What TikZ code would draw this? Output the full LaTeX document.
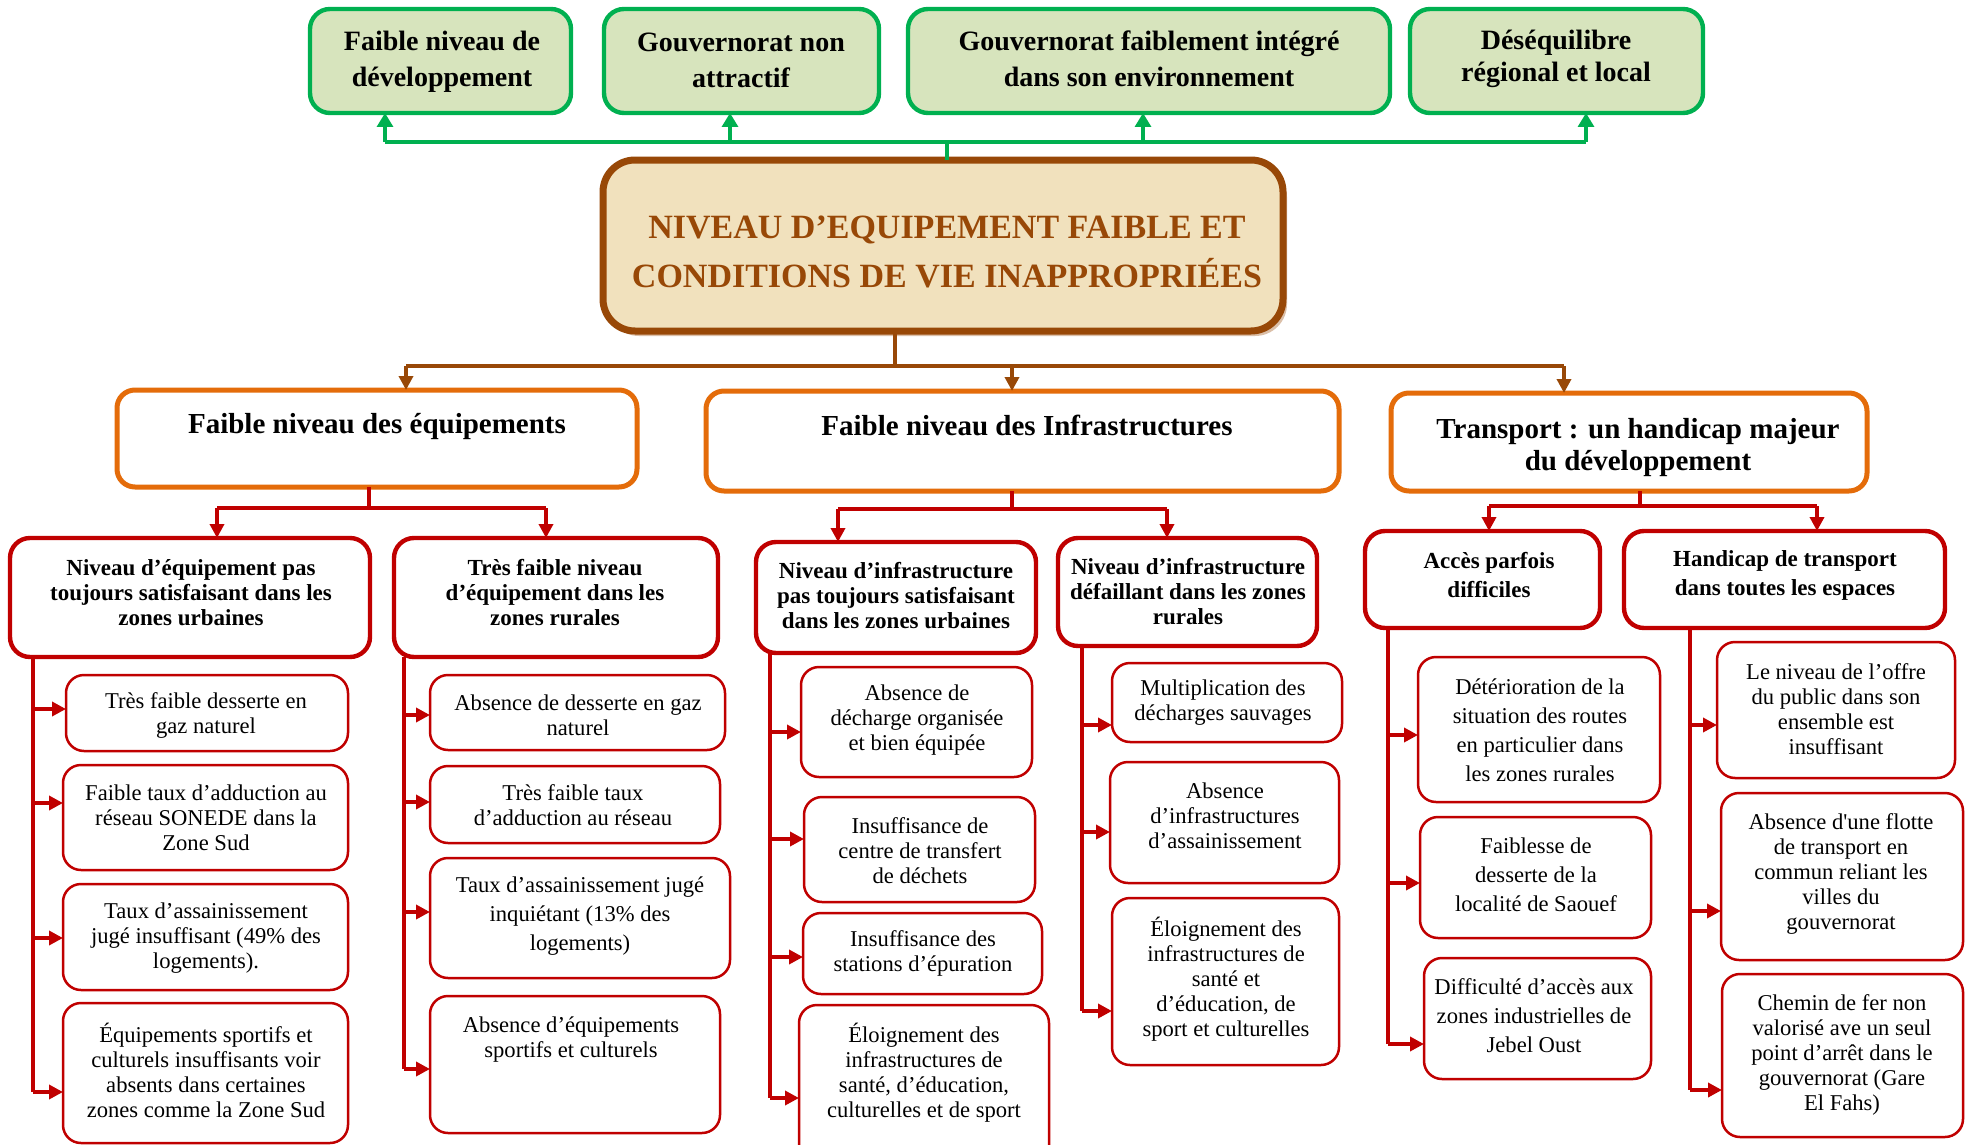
\documentclass[tikz,border=0pt]{standalone}
\usepackage{fontspec}
\setmainfont{Liberation Serif}
\usetikzlibrary{arrows.meta,shadows}
\definecolor{gr}{HTML}{00B050}
\definecolor{grfill}{HTML}{D7E4BD}
\definecolor{brn}{HTML}{984807}
\definecolor{parch}{HTML}{F1E1BD}
\definecolor{org}{HTML}{E46C0A}
\definecolor{rd}{HTML}{C00000}
\newcommand\mkbox[6]{\node[#1, minimum width={(#5-#3)*0.5pt}, minimum height={(#6-#4)*0.5pt}] (#2) at ({(#3+#5)/2},{(#4+#6)/2}) {};}
\tikzset{
  every node/.style={inner sep=0pt, outer sep=0pt},
  gbox/.style={rectangle, draw=gr, line width=2.2pt, fill=grfill, rounded corners=10pt},
  mbox/.style={rectangle, draw=brn, line width=3.5pt, fill=parch, rounded corners=16pt,
    drop shadow={shadow xshift=2pt, shadow yshift=-2.5pt, fill=brn!35!white, opacity=1}},
  obox/.style={rectangle, draw=org, line width=2.5pt, fill=white, rounded corners=9pt},
  rbox/.style={rectangle, draw=rd, line width=2.2pt, fill=white, rounded corners=10pt},
  lbox/.style={rectangle, draw=rd, line width=1.25pt, fill=white, rounded corners=9pt},
  gtxt/.style={align=center, font=\bfseries\fontsize{14}{18}\selectfont},
  gtxtn/.style={align=center, font=\bfseries\fontsize{14}{16}\selectfont},
  mtxt/.style={align=center, text=brn, font=\bfseries\fontsize{17}{24.5}\selectfont},
  otxt/.style={align=center, font=\bfseries\fontsize{14.5}{16}\selectfont},
  rtxt/.style={align=center, font=\bfseries\fontsize{11.5}{12.5}\selectfont},
  rtxtw/.style={align=center, font=\bfseries\fontsize{11.5}{14.5}\selectfont},
  ltxt/.style={align=center, font=\fontsize{11.3}{12.5}\selectfont},
  ltxtw/.style={align=center, font=\fontsize{11.3}{14.5}\selectfont},
  gline/.style={draw=gr, line width=1.6pt},
  garr/.style={gline, -{Triangle[length=7pt,width=8pt]}},
  bline/.style={draw=brn, line width=2pt},
  barr/.style={bline, -{Triangle[length=7pt,width=7pt]}},
  rline/.style={draw=rd, line width=1.8pt},
  rarr/.style={rline, -{Triangle[length=7pt,width=7pt]}},
}
\begin{document}
\begin{tikzpicture}[x=0.5pt,y=-0.5pt]
\fill[white] (0,0) rectangle (1970,1145);
\useasboundingbox (0,0) rectangle (1970,1145);

% ---- top green boxes
\mkbox{gbox}{g1}{310}{9}{571}{113}
\mkbox{gbox}{g2}{604}{9}{879}{113}
\mkbox{gbox}{g3}{908}{9}{1390}{113}
\mkbox{gbox}{g4}{1410}{9}{1703}{113}
\node[gtxt] (g1t) at (442,62) {Faible niveau de\\développement};
\node[gtxt] (g2t) at (741,60) {Gouvernorat non\\attractif};
\node[gtxt] (g3t) at (1149,59) {Gouvernorat faiblement intégré\\dans son environnement};
\node[gtxtn] (g4t) at (1556,59) {Déséquilibre\\régional et local};

% ---- main box
\mkbox{mbox}{main}{603}{160}{1283}{331}
\node[mtxt] (maint) at (947,252) {NIVEAU D’EQUIPEMENT FAIBLE ET\\CONDITIONS DE VIE INAPPROPRIÉES};

% green connectors
\coordinate (gb0) at (947,142);
\coordinate (gb1) at (385,142);
\coordinate (gb2) at (730,142);
\coordinate (gb3) at (1143,142);
\coordinate (gb4) at (1586,142);
\draw[gline] (main.north -| gb0) -- (gb0);
\draw[gline] (gb1) -- (gb4);
\draw[garr] (gb1) -- (gb1 |- g1.south);
\draw[garr] (gb2) -- (gb2 |- g2.south);
\draw[garr] (gb3) -- (gb3 |- g3.south);
\draw[garr] (gb4) -- (gb4 |- g4.south);

% ---- orange boxes
\mkbox{obox}{oA}{117}{390}{637}{487}
\mkbox{obox}{oB}{706}{391}{1339}{491}
\mkbox{obox}{oC}{1391}{393}{1867}{491}
\node[otxt] (oAt) at (377,427) {Faible niveau des équipements};
\node[otxt] (oBt) at (1027,425) {Faible niveau des Infrastructures};
\node[otxt] (oCt) at (1638,448) {Transport : un handicap majeur\\du développement};

% brown connectors
\coordinate (bb0) at (895,366);
\coordinate (bb1) at (406,366);
\coordinate (bb2) at (1012,366);
\coordinate (bb3) at (1564,366);
\draw[bline] (main.south -| bb0) -- (bb0);
\draw[bline] (bb1) -- (bb3);
\draw[barr] (bb1) -- (bb1 |- oA.north);
\draw[barr] (bb2) -- (bb2 |- oB.north);
\draw[barr] (bb3) -- (bb3 |- oC.north);

% ---- red header boxes
\mkbox{rbox}{R1}{10}{538}{370}{657}
\mkbox{rbox}{R2}{394}{538}{718}{657}
\mkbox{rbox}{R3}{756}{542}{1036}{653}
\mkbox{rbox}{R4}{1058}{538}{1317}{646}
\mkbox{rbox}{R5}{1365}{531}{1600}{628}
\mkbox{rbox}{R6}{1624}{531}{1945}{628}
\node[rtxt] (R1t) at (191,593) {Niveau d’équipement pas\\toujours satisfaisant dans les\\zones urbaines};
\node[rtxt] (R2t) at (555,593) {Très faible niveau\\d’équipement dans les\\zones rurales};
\node[rtxt] (R3t) at (896,596) {Niveau d’infrastructure\\pas toujours satisfaisant\\dans les zones urbaines};
\node[rtxt] (R4t) at (1188,592) {Niveau d’infrastructure\\défaillant dans les zones\\rurales};
\node[rtxtw] (R5t) at (1489,575) {Accès parfois\\difficiles};
\node[rtxtw] (R6t) at (1785,575) {Handicap de transport\\dans toutes les espaces};

% orange -> red connectors
\coordinate (ra0) at (369,508); \coordinate (ra1) at (217,508); \coordinate (ra2) at (546,508);
\coordinate (rb0) at (1012,509); \coordinate (rb1) at (838,509); \coordinate (rb2) at (1167,509);
\coordinate (rc0) at (1640,506); \coordinate (rc1) at (1489,506); \coordinate (rc2) at (1817,506);
\draw[rline] (oA.south -| ra0) -- (ra0);
\draw[rline] (ra1) -- (ra2);
\draw[rarr] (ra1) -- (ra1 |- R1.north);
\draw[rarr] (ra2) -- (ra2 |- R2.north);
\draw[rline] (oB.south -| rb0) -- (rb0);
\draw[rline] (rb1) -- (rb2);
\draw[rarr] (rb1) -- (rb1 |- R3.north);
\draw[rarr] (rb2) -- (rb2 |- R4.north);
\draw[rline] (oC.south -| rc0) -- (rc0);
\draw[rline] (rc1) -- (rc2);
\draw[rarr] (rc1) -- (rc1 |- R5.north);
\draw[rarr] (rc2) -- (rc2 |- R6.north);

% ---- leaf boxes
\mkbox{lbox}{L1a}{66}{675}{348}{751}
\mkbox{lbox}{L1b}{63}{765}{348}{870}
\mkbox{lbox}{L1c}{63}{884}{348}{990}
\mkbox{lbox}{L1d}{63}{1003}{348}{1143}
\mkbox{lbox}{L2a}{430}{675}{725}{750}
\mkbox{lbox}{L2b}{430}{766}{720}{843}
\mkbox{lbox}{L2c}{430}{858}{730}{978}
\mkbox{lbox}{L2d}{430}{996}{720}{1133}
\mkbox{lbox}{L3a}{801}{667}{1032}{777}
\mkbox{lbox}{L3b}{804}{797}{1035}{902}
\mkbox{lbox}{L3c}{803}{913}{1042}{994}
\mkbox{lbox}{L3d}{799}{1005}{1049}{1165}
\mkbox{lbox}{L4a}{1112}{663}{1342}{742}
\mkbox{lbox}{L4b}{1110}{762}{1339}{883}
\mkbox{lbox}{L4c}{1112}{898}{1339}{1065}
\mkbox{lbox}{L5a}{1418}{657}{1660}{802}
\mkbox{lbox}{L5b}{1420}{817}{1651}{938}
\mkbox{lbox}{L5c}{1424}{958}{1651}{1079}
\mkbox{lbox}{L6a}{1717}{642}{1955}{778}
\mkbox{lbox}{L6b}{1721}{793}{1963}{960}
\mkbox{lbox}{L6c}{1722}{974}{1963}{1137}

\node[ltxt] (L1at) at (206,715) {Très faible desserte en\\gaz naturel};
\node[ltxt] (L1bt) at (206,818) {Faible taux d’adduction au\\réseau SONEDE dans la\\Zone Sud};
\node[ltxt] (L1ct) at (206,938) {Taux d’assainissement\\jugé insuffisant (49\% des\\logements).};
\node[ltxt] (L1dt) at (206,1070) {Équipements sportifs et\\culturels insuffisants voir\\absents dans certaines\\zones comme la Zone Sud};
\node[ltxt] (L2at) at (578,715) {Absence de desserte en gaz\\naturel};
\node[ltxt] (L2bt) at (573,805) {Très faible taux\\d’adduction au réseau};
\node[ltxtw] (L2ct) at (580,916) {Taux d’assainissement jugé\\inquiétant (13\% des\\logements)};
\node[ltxt] (L2dt) at (571,1040) {Absence d’équipements\\sportifs et culturels};
\node[ltxt] (L3at) at (917,720) {Absence de\\décharge organisée\\et bien équipée};
\node[ltxt] (L3bt) at (920,851) {Insuffisance de\\centre de transfert\\de déchets};
\node[ltxt] (L3ct) at (923,953) {Insuffisance des\\stations d’épuration};
\node[ltxt] (L3dt) at (924,1073) {Éloignement des\\infrastructures de\\santé, d’éducation,\\culturelles et de sport};
\node[ltxt] (L4at) at (1223,703) {Multiplication des\\décharges sauvages};
\node[ltxt] (L4bt) at (1225,816) {Absence\\d’infrastructures\\d’assainissement};
\node[ltxt] (L4ct) at (1226,979) {Éloignement des\\infrastructures de\\santé et\\d’éducation, de\\sport et culturelles};
\node[ltxtw] (L5at) at (1540,730) {Détérioration de la\\situation des routes\\en particulier dans\\les zones rurales};
\node[ltxtw] (L5bt) at (1536,875) {Faiblesse de\\desserte de la\\localité de Saouef};
\node[ltxtw] (L5ct) at (1534,1016) {Difficulté d’accès aux\\zones industrielles de\\Jebel Oust};
\node[ltxt] (L6at) at (1836,709) {Le niveau de l’offre\\du public dans son\\ensemble est\\insuffisant};
\node[ltxt] (L6bt) at (1841,874) {Absence d\textquotesingle une flotte\\de transport en\\commun reliant les\\villes du\\gouvernorat};
\node[ltxt] (L6ct) at (1842,1055) {Chemin de fer non\\valorisé ave un seul\\point d’arrêt dans le\\gouvernorat (Gare\\El Fahs)};

% ---- spines and leaf arrows
\coordinate (s1a) at (33,709); \coordinate (s1b) at (33,803); \coordinate (s1c) at (33,938); \coordinate (s1d) at (33,1092);
\draw[rline] (R1.south -| s1a) -- (s1d);
\draw[rarr] (s1a) -- (s1a -| L1a.west);
\draw[rarr] (s1b) -- (s1b -| L1b.west);
\draw[rarr] (s1c) -- (s1c -| L1c.west);
\draw[rarr] (s1d) -- (s1d -| L1d.west);

\coordinate (s2a) at (404,715); \coordinate (s2b) at (404,802); \coordinate (s2c) at (404,912); \coordinate (s2d) at (404,1069);
\draw[rline] (R2.south -| s2a) -- (s2d);
\draw[rarr] (s2a) -- (s2a -| L2a.west);
\draw[rarr] (s2b) -- (s2b -| L2b.west);
\draw[rarr] (s2c) -- (s2c -| L2c.west);
\draw[rarr] (s2d) -- (s2d -| L2d.west);

\coordinate (s3a) at (770,732); \coordinate (s3b) at (770,839); \coordinate (s3c) at (770,957); \coordinate (s3d) at (770,1098);
\draw[rline] (R3.south -| s3a) -- (s3d);
\draw[rarr] (s3a) -- (s3a -| L3a.west);
\draw[rarr] (s3b) -- (s3b -| L3b.west);
\draw[rarr] (s3c) -- (s3c -| L3c.west);
\draw[rarr] (s3d) -- (s3d -| L3d.west);

\coordinate (s4a) at (1082,725); \coordinate (s4b) at (1082,832); \coordinate (s4c) at (1082,1011);
\draw[rline] (R4.south -| s4a) -- (s4c);
\draw[rarr] (s4a) -- (s4a -| L4a.west);
\draw[rarr] (s4b) -- (s4b -| L4b.west);
\draw[rarr] (s4c) -- (s4c -| L4c.west);

\coordinate (s5a) at (1388,735); \coordinate (s5b) at (1388,883); \coordinate (s5c) at (1388,1044);
\draw[rline] (R5.south -| s5a) -- (s5c);
\draw[rarr] (s5a) -- (s5a -| L5a.west);
\draw[rarr] (s5b) -- (s5b -| L5b.west);
\draw[rarr] (s5c) -- (s5c -| L5c.west);

\coordinate (s6a) at (1690,725); \coordinate (s6b) at (1690,911); \coordinate (s6c) at (1690,1090);
\draw[rline] (R6.south -| s6a) -- (s6c);
\draw[rarr] (s6a) -- (s6a -| L6a.west);
\draw[rarr] (s6b) -- (s6b -| L6b.west);
\draw[rarr] (s6c) -- (s6c -| L6c.west);
\end{tikzpicture}
\end{document}
